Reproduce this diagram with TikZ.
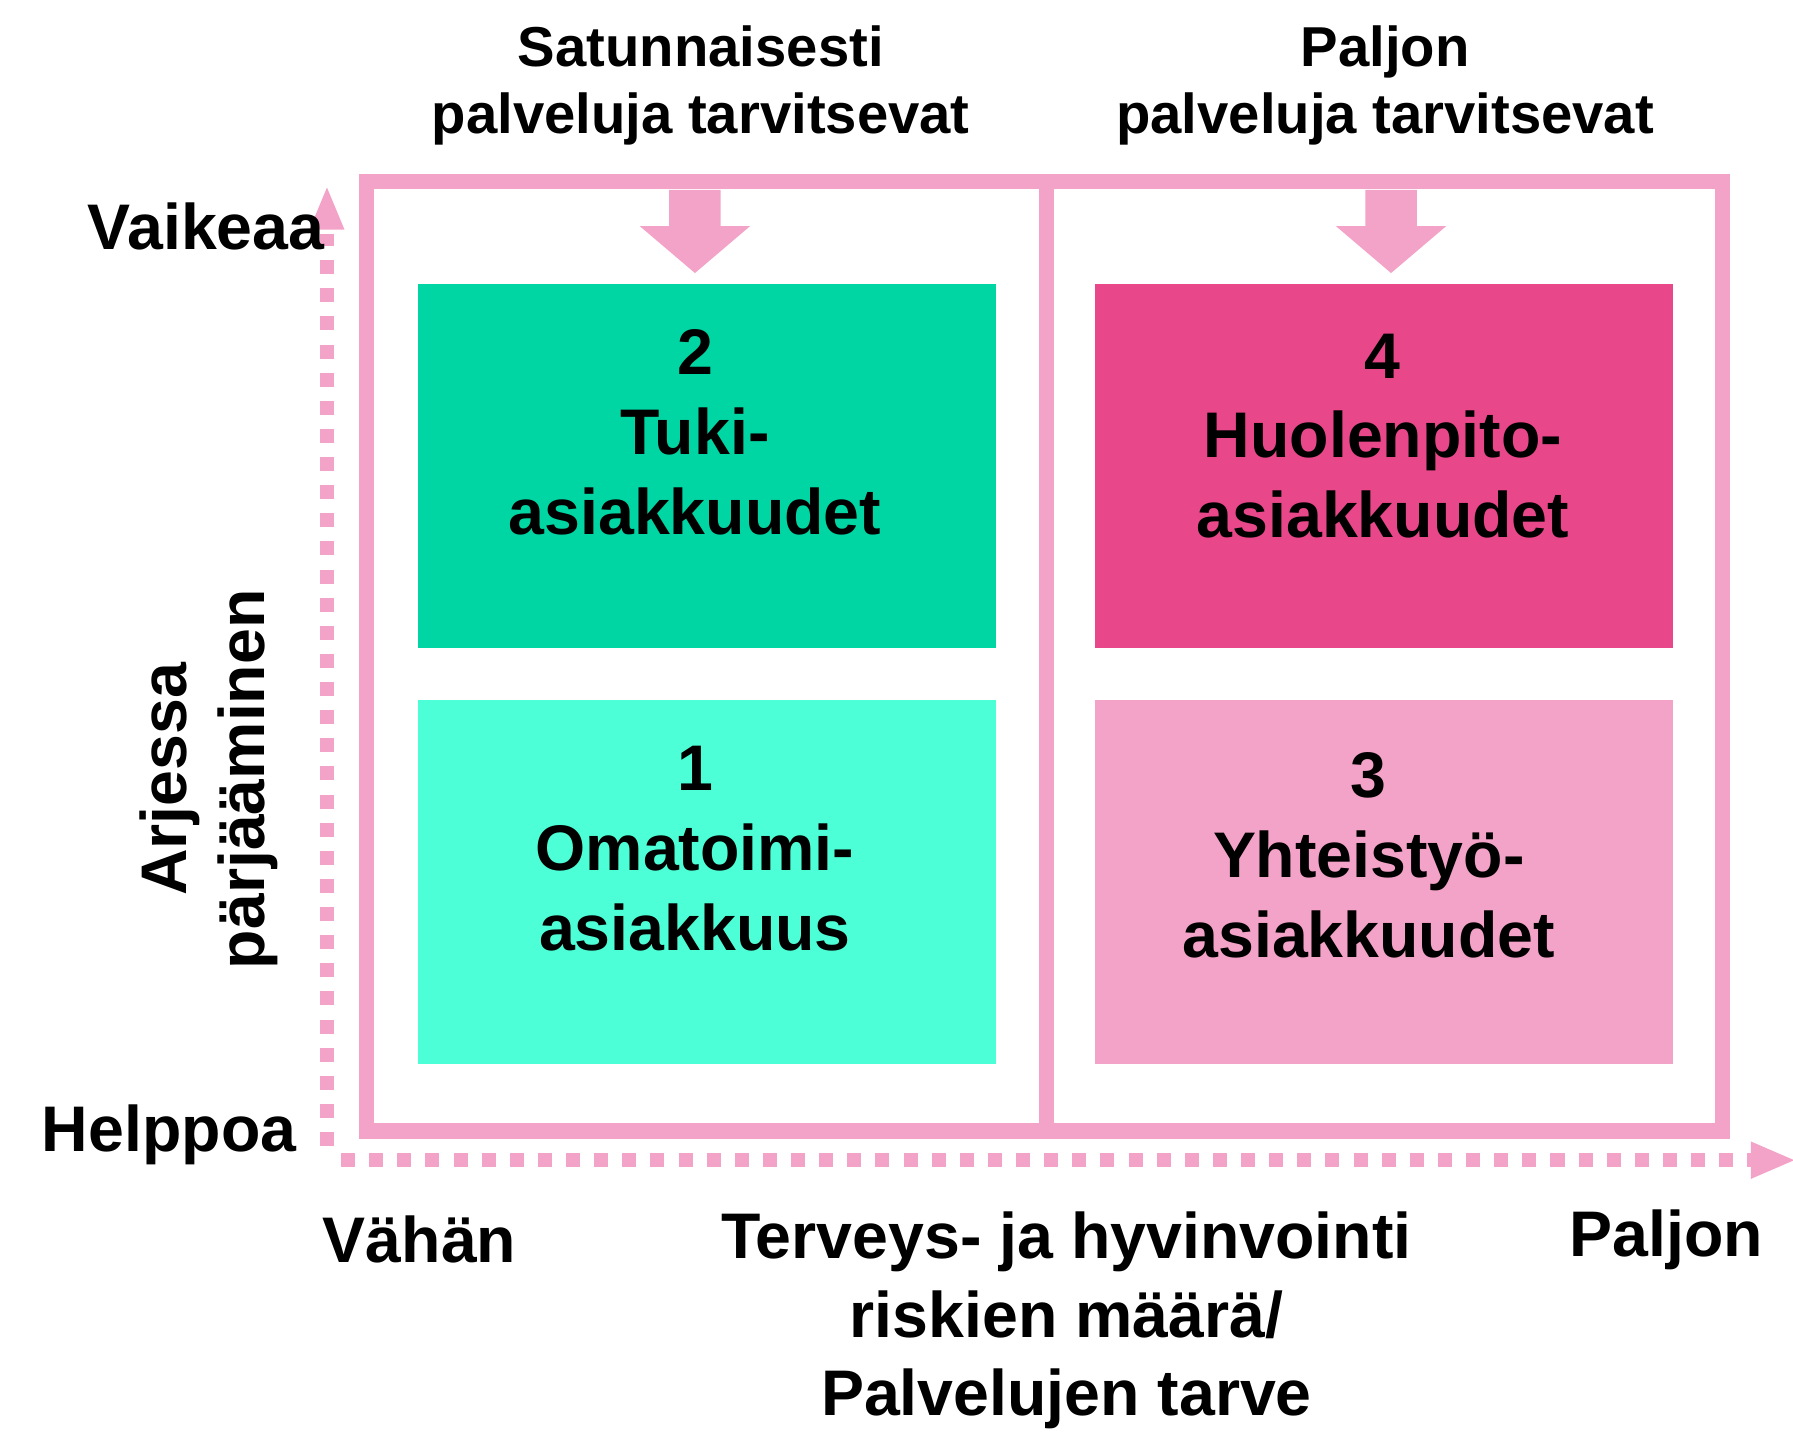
\documentclass[tikz,border=0pt]{standalone}
\usepackage{fontspec}
\setmainfont{Liberation Sans}
\begin{document}
\begin{tikzpicture}[x=1pt,y=-1pt,
  every node/.style={font=\bfseries, align=center, inner sep=0pt},
  big/.style={font=\fontsize{55}{67}\selectfont\bfseries},
  mid/.style={font=\fontsize{48}{57}\selectfont\bfseries},
  quad/.style={minimum width=493pt, minimum height=311pt},
  qtext/.style={font=\fontsize{55}{68}\selectfont\bfseries},
  axis/.style={line width=12pt, draw=pinkc, dash pattern=on 12pt off 12pt}]
\definecolor{pinkc}{HTML}{F4A3C8}
\definecolor{greenA}{HTML}{00D6A3}
\definecolor{greenB}{HTML}{4DFFD6}
\definecolor{magc}{HTML}{E8478A}
\useasboundingbox (0,0) rectangle (1530,1230);
% frame
\draw[pinkc, line width=13pt] (313,155) rectangle (1470,965);
\draw[pinkc, line width=13pt] (893,155) -- (893,965);
% boxes
\node[quad, fill=greenA] (q2) at (603.5,397.5) {};
\node[quad, fill=greenB] (q1) at (603.5,752.5) {};
\node[quad, fill=magc] (q4) at (1181,397.5) {};
\node[quad, fill=pinkc] (q3) at (1181,752.5) {};
\node[qtext] (l2) at (593,369) {2\\Tuki-\\asiakkuudet};
\node[qtext] (l1) at (593,724) {1\\Omatoimi-\\asiakkuus};
\node[qtext] (l4) at (1180,372) {4\\Huolenpito-\\asiakkuudet};
\node[qtext] (l3) at (1168,730) {3\\Yhteistyö-\\asiakkuudet};
% down arrows
\fill[pinkc] (571,162) -- (615,162) -- (615,193) -- (640,193) -- (593,233) -- (546,193) -- (571,193) -- cycle;
\fill[pinkc] (1165,162) -- (1209,162) -- (1209,193) -- (1234,193) -- (1187,233) -- (1140,193) -- (1165,193) -- cycle;
% axes
\coordinate (ytop) at (279,200);
\coordinate (xend) at (1496,990);
\draw[axis] (279,978) -- (ytop);
\draw[axis] (291,990) -- (xend);
\fill[pinkc] (264,196) -- (294,196) -- (279,160) -- cycle;
\fill[pinkc] (1494,974) -- (1494,1006) -- (1531,990) -- cycle;
% labels
\node[mid] (t1) at (598,73) {Satunnaisesti\\palveluja tarvitsevat};
\node[mid] (t2) at (1182,73) {Paljon\\palveluja tarvitsevat};
\node[big, anchor=east] (va) at (277,193) {Vaikeaa};
\node[big, anchor=east] (he) at (253,968) {Helppoa};
\node[big] (vh) at (358,1058) {Vähän};
\node[big] (pa) at (1422,1058) {Paljon};
\node[big] (tv) at (910,1127) {Terveys- ja hyvinvointi\\riskien määrä/\\Palvelujen tarve};
\node[big, rotate=90] (ar) at (178,665) {Arjessa\\pärjääminen};
\end{tikzpicture}
\end{document}
